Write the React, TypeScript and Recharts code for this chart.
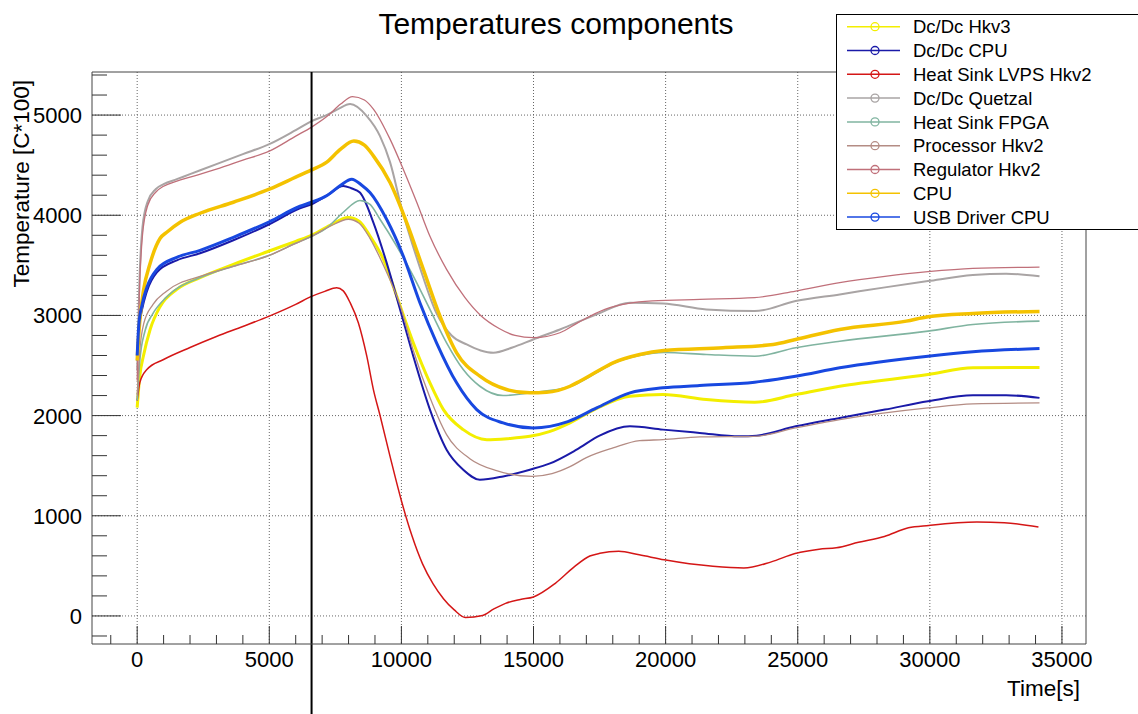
import { LineChart, Line, XAxis, YAxis, CartesianGrid, ReferenceLine } from 'recharts';

const W = 1138;
const H = 714;
const X_DOMAIN: [number, number] = [-1710, 35910];
const Y_DOMAIN: [number, number] = [-280, 5430];
const FONT = '"Liberation Sans", Arial, Helvetica, sans-serif';

// [time s, temperature C*100]
const dcdcHkv3 = [
  [0, 2080], [100, 2400], [240, 2600], [490, 2860], [870, 3090], [1500, 3260], [2380, 3377], [3640, 3510],
  [5000, 3643], [6000, 3740], [6600, 3800], [7300, 3900], [7990, 3977], [8400, 3940], [8810, 3793], [9320, 3560],
  [9820, 3193], [10450, 2727], [11080, 2327], [11590, 2060], [12340, 1860], [13230, 1760], [14000, 1770],
  [14860, 1793], [15600, 1840], [16380, 1927], [17300, 2060], [18650, 2193], [19900, 2210], [21540, 2160],
  [23370, 2133], [24920, 2210], [26590, 2293], [29930, 2410], [31630, 2477], [34150, 2480],
];

const dcdcCpu = [
  [0, 2550], [60, 2850], [178, 3050], [367, 3240], [745, 3430], [1500, 3550], [2380, 3620], [3640, 3750],
  [5000, 3910], [6160, 4070], [6600, 4110], [7200, 4200], [7800, 4293], [8100, 4270], [8430, 4227], [8940, 3927],
  [9440, 3527], [9950, 3060], [10450, 2593], [11080, 2060], [11710, 1660], [12340, 1460], [12970, 1360],
  [13850, 1393], [14860, 1460], [15600, 1520], [16630, 1660], [17500, 1800], [18650, 1893], [19900, 1860],
  [21290, 1827], [22800, 1793], [23440, 1800], [24920, 1893], [26590, 1977], [28300, 2060], [29930, 2143],
  [31630, 2203], [32890, 2203], [34150, 2177],
];

const heatSinkLvps = [
  [0, 2150], [100, 2330], [367, 2460], [1000, 2560], [2000, 2680], [3000, 2790], [4000, 2890], [5000, 2993],
  [6000, 3110], [6600, 3190], [7100, 3240], [7550, 3277], [7800, 3245], [8060, 3127], [8370, 2927], [8690, 2593],
  [8940, 2260], [9190, 2003], [9570, 1593], [10000, 1150], [10400, 800], [10800, 520], [11200, 320], [11600, 170],
  [12000, 60], [12420, -15], [13072, 5], [13500, 70], [13942, 126], [14500, 165], [15000, 190], [15826, 326],
  [16550, 492], [17130, 598], [17510, 625], [18225, 645], [19000, 610], [19950, 560], [21790, 495], [22960, 478],
  [24000, 540], [24900, 623], [25810, 667], [26460, 680], [27300, 735], [28280, 794], [29190, 880], [29960, 904],
  [31780, 938], [32820, 931], [34110, 887],
];

const dcdcQuetzal = [
  [0, 2450], [80, 3300], [200, 3880], [400, 4140], [700, 4260], [1000, 4310], [1500, 4360], [2000, 4410],
  [3000, 4510], [4000, 4610], [5000, 4710], [6000, 4850], [6600, 4940], [7170, 5000], [7600, 5060], [8060, 5110],
  [8690, 4990], [9190, 4790], [9570, 4530], [10000, 4080], [10700, 3480], [11330, 3020], [11900, 2800],
  [12470, 2710], [13000, 2650], [13480, 2627], [14200, 2680], [14990, 2760], [16000, 2860], [17390, 3010],
  [18650, 3127], [19900, 3120], [21540, 3060], [23370, 3043], [24920, 3143], [26590, 3210], [28300, 3280],
  [29930, 3343], [31630, 3403], [32890, 3417], [34150, 3390],
];

const heatSinkFpga = [
  [0, 2150], [100, 2550], [300, 2850], [600, 3020], [1100, 3180], [2500, 3390], [3640, 3490], [5000, 3600],
  [6000, 3720], [6600, 3790], [7200, 3880], [7800, 4030], [8430, 4148], [8800, 4110], [9190, 3960], [9820, 3693],
  [10450, 3393], [11080, 3060], [11710, 2727], [12340, 2460], [12970, 2293], [13850, 2200], [14860, 2227],
  [16380, 2290], [17400, 2430], [18010, 2520], [19020, 2600], [19930, 2630], [21540, 2610], [23370, 2593],
  [24920, 2677], [26590, 2743], [29930, 2843], [31630, 2910], [34150, 2943],
];

const processorHkv2 = [
  [0, 2200], [100, 2650], [250, 2920], [600, 3110], [1100, 3240], [2500, 3400], [3640, 3490], [5000, 3600],
  [6000, 3720], [6600, 3790], [7300, 3890], [7990, 3960], [8400, 3920], [8810, 3770], [9320, 3500], [9950, 3100],
  [10450, 2650], [11080, 2180], [11710, 1810], [12590, 1570], [13600, 1450], [14960, 1393], [15700, 1420],
  [16380, 1490], [17000, 1580], [18010, 1677], [19020, 1750], [19900, 1760], [21290, 1787], [23370, 1793],
  [24920, 1877], [26590, 1960], [29930, 2077], [31630, 2117], [34150, 2127],
];

const regulatorHkv2 = [
  [0, 2350], [80, 3200], [200, 3800], [400, 4100], [700, 4230], [1000, 4290], [1500, 4340], [2000, 4380],
  [3000, 4460], [4000, 4550], [5000, 4640], [6000, 4790], [6600, 4880], [7200, 4990], [7700, 5110], [8150, 5185],
  [8600, 5150], [8940, 5060], [9570, 4760], [10070, 4460], [10580, 4130], [11080, 3790], [11710, 3460],
  [12400, 3180], [13000, 3000], [13700, 2870], [14300, 2800], [15000, 2778], [16000, 2827], [16700, 2930],
  [17700, 3060], [18600, 3120], [19500, 3145], [21300, 3160], [23370, 3177], [24920, 3243], [26590, 3327],
  [28300, 3390], [29930, 3437], [31630, 3470], [34150, 3483],
];

const cpu = [
  [0, 2550], [100, 2950], [240, 3250], [490, 3520], [870, 3770], [1120, 3830], [1626, 3930], [2380, 4020],
  [3640, 4130], [5000, 4260], [6000, 4380], [6580, 4450], [7175, 4530], [7700, 4660], [8200, 4740], [8600, 4700],
  [8940, 4593], [9570, 4327], [10200, 3927], [10830, 3460], [11460, 2993], [12090, 2627], [12970, 2393],
  [13980, 2260], [14860, 2227], [15490, 2233], [16380, 2293], [16750, 2343], [17400, 2440], [18010, 2527],
  [19020, 2610], [19930, 2650], [22170, 2677], [24070, 2710], [24920, 2760], [26590, 2860], [29110, 2943],
  [29930, 2987], [31630, 3020], [34150, 3040],
];

const usbDriverCpu = [
  [0, 2600], [60, 2900], [178, 3100], [367, 3280], [745, 3460], [1500, 3580], [2380, 3650], [3640, 3780],
  [5000, 3935], [6160, 4090], [6600, 4130], [7200, 4200], [7700, 4300], [8120, 4360], [8500, 4300], [8810, 4227],
  [9440, 3960], [10070, 3593], [10700, 3127], [11330, 2727], [12090, 2327], [12850, 2060], [13850, 1927],
  [14990, 1877], [16300, 1940], [17390, 2077], [18650, 2227], [19900, 2277], [21290, 2300], [23370, 2333],
  [24920, 2393], [26590, 2477], [29930, 2593], [31630, 2637], [34150, 2670],
];

const series = [
  { name: 'Dc/Dc Hkv3', points: dcdcHkv3, color: '#f3ee00', width: 3 },
  { name: 'Dc/Dc CPU', points: dcdcCpu, color: '#1a1aa8', width: 2 },
  { name: 'Heat Sink LVPS Hkv2', points: heatSinkLvps, color: '#d41616', width: 1.5 },
  { name: 'Dc/Dc Quetzal', points: dcdcQuetzal, color: '#a9a4a4', width: 2 },
  { name: 'Heat Sink FPGA', points: heatSinkFpga, color: '#80b4a0', width: 1.6 },
  { name: 'Processor Hkv2', points: processorHkv2, color: '#b48c84', width: 1.3 },
  { name: 'Regulator Hkv2', points: regulatorHkv2, color: '#c0707a', width: 1.3 },
  { name: 'CPU', points: cpu, color: '#f4c200', width: 3.5 },
  { name: 'USB Driver CPU', points: usbDriverCpu, color: '#1848e0', width: 3 },
];

const xMajor = [0, 5000, 10000, 15000, 20000, 25000, 30000, 35000];
const yMajor = [0, 1000, 2000, 3000, 4000, 5000];
const xTicks = Array.from({ length: 37 }, (_, i) => -1000 + i * 1000);
const yTicks = Array.from({ length: 29 }, (_, i) => -200 + i * 200);
const markerTime = 6600;

function XTick(props: any) {
  const { x, y, payload } = props;
  const major = payload.value % 5000 === 0;
  return (
    <g>
      <line x1={x} y1={y} x2={x} y2={y - (major ? 18 : 9)} stroke="#333" />
      {major && (
        <text x={x} y={y + 23} textAnchor="middle" fontSize={22} fontFamily={FONT} fill="#000">
          {payload.value}
        </text>
      )}
    </g>
  );
}

function YTick(props: any) {
  const { x, y, payload } = props;
  const major = payload.value % 1000 === 0;
  return (
    <g>
      <line x1={x} y1={y} x2={x + (major ? 29 : 15)} y2={y} stroke="#333" />
      {major && (
        <text x={x - 10} y={y + 8} textAnchor="end" fontSize={22} fontFamily={FONT} fill="#000">
          {payload.value}
        </text>
      )}
    </g>
  );
}

export default function App() {
  return (
    <div style={{ position: 'absolute', left: 0, top: 0, width: W, height: H, background: '#fff' }}>
      <LineChart width={W} height={H} margin={{ top: 72, right: 52, bottom: 69, left: 91 }}>
        <CartesianGrid
          stroke="#666"
          strokeDasharray="1 2"
          verticalValues={xMajor}
          horizontalValues={yMajor}
        />
        <XAxis
          type="number"
          dataKey="t"
          domain={X_DOMAIN}
          allowDataOverflow
          ticks={xTicks}
          interval={0}
          height={1}
          tickSize={0}
          tickMargin={0}
          tick={(p: any) => <XTick {...p} />}
          axisLine={{ stroke: '#444' }}
        />
        <YAxis
          type="number"
          domain={Y_DOMAIN}
          allowDataOverflow
          ticks={yTicks}
          interval={0}
          width={1}
          tickSize={0}
          tickMargin={0}
          tick={(p: any) => <YTick {...p} />}
          axisLine={{ stroke: '#444' }}
        />
        <ReferenceLine y={Y_DOMAIN[1]} stroke="#444" ifOverflow="visible" />
        <ReferenceLine x={X_DOMAIN[1]} stroke="#444" ifOverflow="visible" />
        {series.map((s) => (
          <Line
            key={s.name}
            name={s.name}
            data={s.points.map(([t, v]) => ({ t, v }))}
            dataKey="v"
            type="monotone"
            stroke={s.color}
            strokeWidth={s.width}
            dot={false}
            isAnimationActive={false}
          />
        ))}
        <ReferenceLine
          segment={[{ x: markerTime, y: Y_DOMAIN[1] }, { x: markerTime, y: -980 }]}
          stroke="#000"
          strokeWidth={2}
          ifOverflow="visible"
        />
      </LineChart>
      <svg
        width={W}
        height={H}
        style={{ position: 'absolute', left: 0, top: 0, pointerEvents: 'none' }}
      >
        <text x={556} y={34} textAnchor="middle" fontSize={30} fontFamily={FONT} fill="#000">
          Temperatures components
        </text>
        <text
          x={29}
          y={80}
          textAnchor="end"
          fontSize={22.5}
          fontFamily={FONT}
          fill="#000"
          transform="rotate(-90 29 80)"
        >
          Temperature [C*100]
        </text>
        <text x={1080} y={696} textAnchor="end" fontSize={22.5} fontFamily={FONT} fill="#000">
          Time[s]
        </text>
        <rect x={836.5} y={14.5} width={310} height={215} fill="#fff" stroke="#000" />
        {series.map((s, i) => {
          const cy = 26.7 + i * 23.8;
          return (
            <g key={s.name}>
              <line x1={847} x2={900} y1={cy} y2={cy} stroke={s.color} strokeWidth={1.5} />
              <circle cx={875} cy={cy} r={4} fill="none" stroke={s.color} strokeWidth={1.3} />
              <text x={913} y={cy + 6.6} fontSize={18.5} fontFamily={FONT} fill="#000">
                {s.name}
              </text>
            </g>
          );
        })}
      </svg>
    </div>
  );
}
